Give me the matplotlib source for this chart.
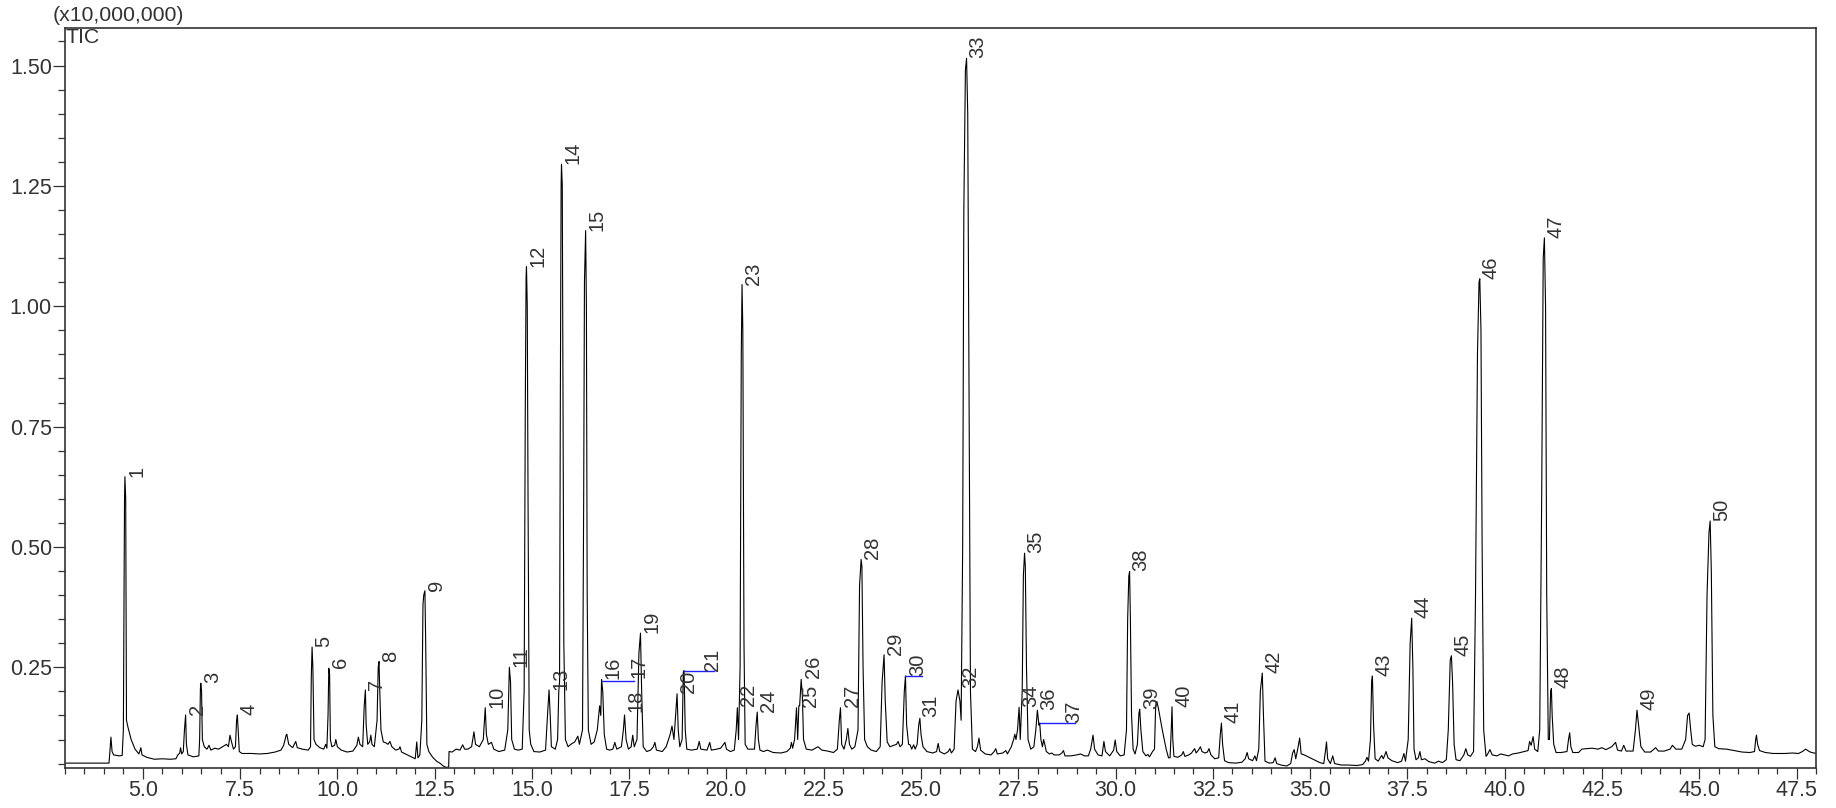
import matplotlib
matplotlib.use('Agg')
import matplotlib.pyplot as plt
from matplotlib.ticker import MultipleLocator, FormatStrFormatter

# TIC trace: (retention time [min], intensity [x10,000,000])
trace_03_10 = [
    (3.00, 0.051), (4.13, 0.051), (4.15, 0.070), (4.18, 0.105), (4.21, 0.075), (4.25, 0.068),
    (4.40, 0.066), (4.47, 0.067), (4.50, 0.120), (4.53, 0.600), (4.54, 0.646), (4.56, 0.600),
    (4.58, 0.140), (4.62, 0.125), (4.70, 0.100), (4.80, 0.080), (4.90, 0.070), (4.95, 0.083),
    (4.98, 0.068), (5.10, 0.063), (5.30, 0.059), (5.50, 0.060), (5.70, 0.059), (5.85, 0.060),
    (5.90, 0.068), (5.95, 0.072), (5.97, 0.083), (6.00, 0.070), (6.04, 0.075), (6.07, 0.120),
    (6.10, 0.151), (6.12, 0.090), (6.16, 0.068), (6.30, 0.064), (6.44, 0.066), (6.46, 0.100),
    (6.48, 0.205), (6.49, 0.217), (6.51, 0.200), (6.53, 0.100), (6.58, 0.085), (6.65, 0.080),
    (6.70, 0.088), (6.75, 0.078), (6.85, 0.082), (6.95, 0.080), (7.05, 0.085), (7.15, 0.090),
    (7.20, 0.085), (7.24, 0.109), (7.28, 0.095), (7.33, 0.080), (7.38, 0.085), (7.41, 0.140),
    (7.43, 0.151), (7.45, 0.120), (7.48, 0.075), (7.55, 0.071), (7.80, 0.071), (8.00, 0.070),
    (8.20, 0.071), (8.40, 0.074), (8.55, 0.078), (8.62, 0.088), (8.68, 0.108), (8.70, 0.111),
    (8.75, 0.090), (8.85, 0.083), (8.93, 0.096), (8.97, 0.083), (9.10, 0.080), (9.25, 0.078),
    (9.31, 0.085), (9.33, 0.230), (9.35, 0.292), (9.37, 0.250), (9.40, 0.100), (9.45, 0.090),
    (9.55, 0.083), (9.65, 0.080), (9.70, 0.090), (9.73, 0.082), (9.76, 0.150), (9.78, 0.248),
    (9.80, 0.235), (9.82, 0.100), (9.86, 0.085), (9.93, 0.088), (9.96, 0.100), (10.00, 0.085),
]
trace_10_17 = [
    (10.10, 0.078), (10.25, 0.074), (10.40, 0.076), (10.50, 0.088), (10.54, 0.105), (10.58, 0.090),
    (10.65, 0.085), (10.69, 0.170), (10.72, 0.203), (10.74, 0.130), (10.78, 0.090), (10.83, 0.095),
    (10.86, 0.109), (10.89, 0.090), (10.95, 0.085), (11.02, 0.140), (11.05, 0.250), (11.07, 0.262),
    (11.09, 0.200), (11.12, 0.120), (11.18, 0.095), (11.25, 0.093), (11.30, 0.090), (11.35, 0.096),
    (11.40, 0.085), (11.50, 0.078), (11.58, 0.080), (11.61, 0.085), (11.65, 0.074), (11.80, 0.068),
    (11.95, 0.062), (12.00, 0.060), (12.04, 0.095), (12.07, 0.062), (12.12, 0.068), (12.17, 0.140),
    (12.20, 0.380), (12.22, 0.400), (12.25, 0.409), (12.27, 0.300), (12.30, 0.090), (12.35, 0.075),
    (12.45, 0.063), (12.55, 0.055), (12.65, 0.050), (12.72, 0.045), (12.80, 0.042), (12.86, 0.043),
    (12.87, 0.075), (12.95, 0.074), (13.05, 0.080), (13.15, 0.078), (13.22, 0.089), (13.27, 0.080),
    (13.35, 0.080), (13.45, 0.085), (13.51, 0.116), (13.55, 0.090), (13.65, 0.085), (13.75, 0.100),
    (13.80, 0.166), (13.83, 0.110), (13.88, 0.090), (13.96, 0.094), (14.02, 0.080), (14.15, 0.075),
    (14.30, 0.078), (14.38, 0.120), (14.42, 0.250), (14.45, 0.220), (14.48, 0.100), (14.55, 0.080),
    (14.65, 0.078), (14.75, 0.080), (14.80, 0.200), (14.83, 0.800), (14.85, 1.060), (14.86, 1.082),
    (14.88, 1.000), (14.90, 0.600), (14.93, 0.120), (14.97, 0.090), (15.05, 0.075), (15.20, 0.074),
    (15.35, 0.078), (15.40, 0.150), (15.44, 0.203), (15.47, 0.150), (15.50, 0.085), (15.60, 0.080),
    (15.66, 0.100), (15.69, 0.200), (15.71, 0.220), (15.73, 0.800), (15.75, 1.250), (15.76, 1.295),
    (15.78, 1.250), (15.80, 0.800), (15.82, 0.300), (15.86, 0.100), (15.93, 0.085), (16.00, 0.090),
    (16.10, 0.095), (16.18, 0.107), (16.22, 0.090), (16.30, 0.120), (16.33, 0.600), (16.35, 1.050),
    (16.38, 1.157), (16.40, 1.000), (16.42, 0.400), (16.45, 0.120), (16.52, 0.090), (16.60, 0.095),
    (16.68, 0.120), (16.74, 0.170), (16.77, 0.150), (16.79, 0.225), (16.82, 0.200), (16.86, 0.110),
    (16.92, 0.080), (17.00, 0.078),
]
trace_17_24 = [
    (17.08, 0.080), (17.13, 0.094), (17.18, 0.080), (17.30, 0.085), (17.35, 0.120), (17.38, 0.151),
    (17.42, 0.100), (17.48, 0.080), (17.55, 0.085), (17.59, 0.109), (17.63, 0.085), (17.70, 0.100),
    (17.75, 0.280), (17.79, 0.321), (17.82, 0.200), (17.86, 0.085), (17.95, 0.075), (18.05, 0.078),
    (18.12, 0.085), (18.16, 0.094), (18.20, 0.078), (18.35, 0.075), (18.45, 0.085), (18.55, 0.110),
    (18.60, 0.128), (18.65, 0.100), (18.70, 0.160), (18.73, 0.195), (18.76, 0.120), (18.80, 0.085),
    (18.86, 0.100), (18.89, 0.240), (18.91, 0.243), (18.94, 0.120), (18.98, 0.080), (19.10, 0.078),
    (19.25, 0.080), (19.30, 0.096), (19.34, 0.080), (19.50, 0.078), (19.57, 0.094), (19.61, 0.078),
    (19.75, 0.080), (19.85, 0.082), (19.96, 0.094), (20.00, 0.080), (20.10, 0.075), (20.20, 0.078),
    (20.25, 0.120), (20.28, 0.166), (20.31, 0.100), (20.35, 0.250), (20.38, 0.900), (20.40, 1.045),
    (20.42, 0.950), (20.45, 0.300), (20.48, 0.090), (20.55, 0.080), (20.65, 0.080), (20.72, 0.080),
    (20.76, 0.130), (20.79, 0.157), (20.82, 0.100), (20.86, 0.078), (20.95, 0.075), (21.05, 0.078),
    (21.20, 0.073), (21.40, 0.072), (21.55, 0.075), (21.64, 0.082), (21.67, 0.094), (21.70, 0.082),
    (21.75, 0.100), (21.80, 0.166), (21.83, 0.100), (21.86, 0.170), (21.88, 0.170), (21.92, 0.225),
    (21.95, 0.190), (21.98, 0.100), (22.05, 0.080), (22.20, 0.078), (22.35, 0.085), (22.45, 0.078),
    (22.60, 0.076), (22.75, 0.073), (22.85, 0.080), (22.90, 0.140), (22.93, 0.166), (22.96, 0.090),
    (23.02, 0.080), (23.08, 0.100), (23.12, 0.123), (23.16, 0.090), (23.22, 0.080), (23.30, 0.085),
    (23.38, 0.120), (23.42, 0.420), (23.46, 0.474), (23.48, 0.460), (23.51, 0.250), (23.55, 0.100),
    (23.62, 0.085), (23.72, 0.078), (23.85, 0.075), (23.95, 0.085), (24.00, 0.220), (24.05, 0.276),
    (24.08, 0.180), (24.13, 0.095), (24.20, 0.085), (24.30, 0.088), (24.37, 0.090), (24.41, 0.096),
    (24.46, 0.085),
]
trace_24_31 = [
    (24.52, 0.090), (24.57, 0.200), (24.60, 0.232), (24.63, 0.130), (24.68, 0.090), (24.72, 0.089),
    (24.76, 0.080), (24.81, 0.089), (24.85, 0.080), (24.90, 0.090), (24.94, 0.130), (24.97, 0.144),
    (25.00, 0.110), (25.05, 0.085), (25.15, 0.075), (25.30, 0.072), (25.40, 0.075), (25.44, 0.092),
    (25.48, 0.075), (25.60, 0.070), (25.70, 0.075), (25.74, 0.081), (25.78, 0.072), (25.85, 0.080),
    (25.90, 0.180), (25.95, 0.203), (26.00, 0.180), (26.03, 0.140), (26.07, 0.500), (26.10, 1.200),
    (26.14, 1.490), (26.17, 1.515), (26.20, 1.400), (26.23, 0.900), (26.27, 0.200), (26.32, 0.080),
    (26.40, 0.075), (26.45, 0.085), (26.49, 0.103), (26.53, 0.078), (26.65, 0.070), (26.80, 0.068),
    (26.88, 0.075), (26.92, 0.081), (26.96, 0.070), (27.10, 0.072), (27.18, 0.077), (27.22, 0.070),
    (27.32, 0.085), (27.38, 0.100), (27.41, 0.111), (27.44, 0.100), (27.48, 0.120), (27.52, 0.167),
    (27.55, 0.100), (27.60, 0.200), (27.63, 0.440), (27.66, 0.487), (27.68, 0.460), (27.71, 0.250),
    (27.75, 0.100), (27.82, 0.080), (27.90, 0.085), (27.95, 0.120), (27.99, 0.161), (28.03, 0.130),
    (28.05, 0.134), (28.08, 0.100), (28.12, 0.085), (28.15, 0.100), (28.18, 0.090), (28.22, 0.075),
    (28.30, 0.070), (28.36, 0.072), (28.42, 0.068), (28.55, 0.068), (28.62, 0.072), (28.66, 0.077),
    (28.70, 0.066), (28.85, 0.066), (29.00, 0.068), (29.10, 0.070), (29.20, 0.066), (29.30, 0.066),
    (29.36, 0.080), (29.42, 0.109), (29.46, 0.080), (29.55, 0.068), (29.65, 0.066), (29.70, 0.096),
    (29.74, 0.075), (29.85, 0.066), (29.95, 0.078), (29.99, 0.099), (30.03, 0.075), (30.12, 0.066),
    (30.22, 0.068), (30.28, 0.120), (30.31, 0.350), (30.34, 0.440), (30.36, 0.449), (30.38, 0.350),
    (30.41, 0.150), (30.45, 0.080), (30.50, 0.070), (30.56, 0.090), (30.60, 0.155), (30.62, 0.163),
    (30.65, 0.120), (30.70, 0.075), (30.78, 0.066), (30.83, 0.069), (30.87, 0.064), (30.95, 0.075),
    (31.00, 0.080), (31.03, 0.170), (31.06, 0.179), (31.10, 0.165), (31.20, 0.120), (31.30, 0.080),
    (31.36, 0.062),
]
trace_31_39 = [
    (31.40, 0.062), (31.43, 0.120), (31.45, 0.168), (31.47, 0.100), (31.50, 0.065), (31.60, 0.063),
    (31.70, 0.068), (31.74, 0.075), (31.78, 0.065), (31.88, 0.068), (31.95, 0.072), (32.03, 0.081),
    (32.07, 0.072), (32.13, 0.078), (32.18, 0.085), (32.22, 0.075), (32.30, 0.072), (32.36, 0.074),
    (32.40, 0.081), (32.45, 0.068), (32.55, 0.060), (32.65, 0.062), (32.69, 0.110), (32.72, 0.134),
    (32.75, 0.090), (32.80, 0.056), (32.90, 0.052), (33.10, 0.051), (33.25, 0.053), (33.33, 0.060),
    (33.38, 0.073), (33.42, 0.060), (33.52, 0.056), (33.58, 0.066), (33.62, 0.056), (33.68, 0.080),
    (33.72, 0.200), (33.77, 0.238), (33.80, 0.150), (33.84, 0.055), (33.95, 0.051), (34.05, 0.052),
    (34.10, 0.062), (34.14, 0.050), (34.25, 0.047), (34.40, 0.045), (34.50, 0.050), (34.55, 0.072),
    (34.59, 0.079), (34.63, 0.060), (34.68, 0.080), (34.73, 0.103), (34.77, 0.070), (34.85, 0.068),
    (34.95, 0.064), (35.10, 0.058), (35.25, 0.052), (35.35, 0.050), (35.40, 0.080), (35.42, 0.095),
    (35.45, 0.060), (35.52, 0.050), (35.58, 0.066), (35.63, 0.050), (35.80, 0.047), (36.00, 0.047),
    (36.20, 0.046), (36.35, 0.048), (36.42, 0.055), (36.46, 0.063), (36.50, 0.055), (36.55, 0.100),
    (36.58, 0.220), (36.60, 0.232), (36.63, 0.130), (36.67, 0.060), (36.75, 0.055), (36.80, 0.062),
    (36.84, 0.067), (36.88, 0.060), (36.92, 0.068), (36.95, 0.075), (37.00, 0.062), (37.10, 0.056),
    (37.25, 0.052), (37.35, 0.055), (37.41, 0.071), (37.45, 0.055), (37.52, 0.100), (37.57, 0.300),
    (37.61, 0.352), (37.64, 0.250), (37.67, 0.080), (37.72, 0.058), (37.78, 0.062), (37.82, 0.075),
    (37.86, 0.058), (37.95, 0.060), (38.05, 0.054), (38.20, 0.051), (38.30, 0.055), (38.40, 0.052),
    (38.50, 0.058), (38.55, 0.120), (38.60, 0.265), (38.63, 0.274), (38.66, 0.220), (38.70, 0.090),
    (38.75, 0.058), (38.85, 0.056), (38.95, 0.068), (39.00, 0.081), (39.05, 0.068), (39.12, 0.065),
    (39.20, 0.075), (39.25, 0.400), (39.30, 0.900), (39.34, 1.050), (39.36, 1.057), (39.39, 0.950),
    (39.42, 0.500), (39.46, 0.120), (39.52, 0.065),
]
trace_39_48 = [
    (39.55, 0.068), (39.62, 0.079), (39.68, 0.068), (39.80, 0.066), (39.90, 0.070), (40.00, 0.068),
    (40.10, 0.066), (40.20, 0.070), (40.35, 0.072), (40.50, 0.075), (40.60, 0.077), (40.64, 0.096),
    (40.68, 0.088), (40.73, 0.106), (40.77, 0.080), (40.85, 0.075), (40.90, 0.120), (40.95, 0.600),
    (40.99, 1.100), (41.02, 1.142), (41.05, 1.000), (41.08, 0.400), (41.12, 0.100), (41.15, 0.100),
    (41.18, 0.200), (41.20, 0.206), (41.22, 0.150), (41.26, 0.090), (41.32, 0.073), (41.45, 0.073),
    (41.60, 0.075), (41.64, 0.100), (41.67, 0.114), (41.70, 0.085), (41.75, 0.073), (41.90, 0.073),
    (41.98, 0.080), (42.10, 0.081), (42.25, 0.082), (42.40, 0.080), (42.50, 0.083), (42.60, 0.079),
    (42.75, 0.085), (42.85, 0.094), (42.90, 0.078), (43.00, 0.076), (43.06, 0.088), (43.12, 0.076),
    (43.30, 0.076), (43.36, 0.120), (43.40, 0.161), (43.44, 0.130), (43.50, 0.085), (43.60, 0.074),
    (43.75, 0.074), (43.88, 0.083), (43.95, 0.076), (44.10, 0.076), (44.25, 0.080), (44.31, 0.088),
    (44.40, 0.080), (44.55, 0.080), (44.65, 0.100), (44.70, 0.150), (44.74, 0.155), (44.78, 0.120),
    (44.82, 0.090), (44.90, 0.086), (45.00, 0.088), (45.10, 0.085), (45.15, 0.100), (45.20, 0.400),
    (45.25, 0.530), (45.28, 0.554), (45.31, 0.450), (45.35, 0.150), (45.40, 0.085), (45.50, 0.081),
    (45.70, 0.080), (45.90, 0.077), (46.10, 0.074), (46.30, 0.073), (46.42, 0.075), (46.45, 0.100),
    (46.47, 0.109), (46.50, 0.090), (46.55, 0.077), (46.70, 0.073), (46.90, 0.071), (47.20, 0.071),
    (47.40, 0.072), (47.55, 0.071), (47.65, 0.075), (47.73, 0.080), (47.85, 0.074), (48.00, 0.071),
]

# peak labels: number, retention time where the label sits, apex height
peak_no = list(range(1, 51))
peak_rt = [4.54, 6.10, 6.49, 7.43, 9.35, 9.78, 10.72, 11.07, 12.25, 13.80,
           14.42, 14.86, 15.44, 15.76, 16.38, 16.79, 17.45, 17.38, 17.79, 18.73,
           19.35, 20.26, 20.40, 20.79, 21.86, 21.93, 22.93, 23.46, 24.05, 24.62,
           24.96, 25.97, 26.17, 27.52, 27.66, 27.99, 28.63, 30.36, 30.62, 31.45,
           32.72, 33.77, 36.60, 37.61, 38.63, 39.36, 41.02, 41.20, 43.40, 45.28]
peak_top = [0.646, 0.151, 0.217, 0.151, 0.292, 0.248, 0.203, 0.262, 0.409, 0.166,
            0.250, 1.082, 0.203, 1.295, 1.157, 0.225, 0.228, 0.158, 0.321, 0.197,
            0.243, 0.170, 1.045, 0.157, 0.168, 0.227, 0.168, 0.474, 0.276, 0.232,
            0.146, 0.206, 1.515, 0.167, 0.487, 0.162, 0.134, 0.449, 0.164, 0.168,
            0.134, 0.238, 0.232, 0.352, 0.274, 1.057, 1.142, 0.206, 0.161, 0.554]

# blue leader lines for co-eluting peaks
leader_from = [16.79, 18.91, 24.60, 28.05]
leader_to = [17.63, 19.67, 25.03, 28.95]
leader_y = [0.222, 0.243, 0.232, 0.134]

trace = trace_03_10 + trace_10_17 + trace_17_24 + trace_24_31 + trace_31_39 + trace_39_48
rt = [p[0] for p in trace]
tic = [p[1] for p in trace]

plt.rcParams['font.family'] = ['Liberation Sans', 'DejaVu Sans']
txt = '#333333'

fig = plt.figure(figsize=(18.36, 8.08), dpi=100)
ax = fig.add_axes([0.0354, 0.0499, 0.9537, 0.9155])

ax.plot(rt, tic, color='black', lw=0.8)

for x0, x1, y in zip(leader_from, leader_to, leader_y):
    ax.plot([x0, x1], [y, y], color='#2020ff', lw=1.0)

for n, x, y in zip(peak_no, peak_rt, peak_top):
    ax.annotate(str(n), (x, y), xytext=(1.5, 0), textcoords='offset points',
                rotation=90, ha='left', va='bottom', fontsize=14.5, color=txt)

ax.set_xlim(3.0, 48.0)
ax.set_ylim(0.0415, 1.578)
ax.xaxis.set_major_locator(MultipleLocator(2.5))
ax.xaxis.set_minor_locator(MultipleLocator(0.5))
ax.yaxis.set_major_locator(MultipleLocator(0.25))
ax.yaxis.set_minor_locator(MultipleLocator(0.05))
ax.xaxis.set_major_formatter(FormatStrFormatter('%.1f'))
ax.yaxis.set_major_formatter(FormatStrFormatter('%.2f'))
ax.tick_params(axis='both', which='major', direction='out', width=0.9, colors='#333333',
               labelsize=15.5, labelcolor=txt)
ax.tick_params(axis='x', which='major', length=7.6, pad=1.5)
ax.tick_params(axis='y', which='major', length=8.4, pad=1.0)
ax.tick_params(axis='x', which='minor', direction='out', length=4.0, width=0.9, colors='#333333')
ax.tick_params(axis='y', which='minor', direction='out', length=4.8, width=0.9, colors='#333333')
for s in ax.spines.values():
    s.set_linewidth(1.2)
    s.set_color('#333333')

fig.text(53 / 1836, 1 - 25 / 808, '(x10,000,000)', fontsize=15.3, color=txt, va='bottom', ha='left')
fig.text(66 / 1836, 1 - 43 / 808, 'TIC', fontsize=15.3, color=txt, va='baseline', ha='left')

fig.savefig('out.png', dpi=100)
